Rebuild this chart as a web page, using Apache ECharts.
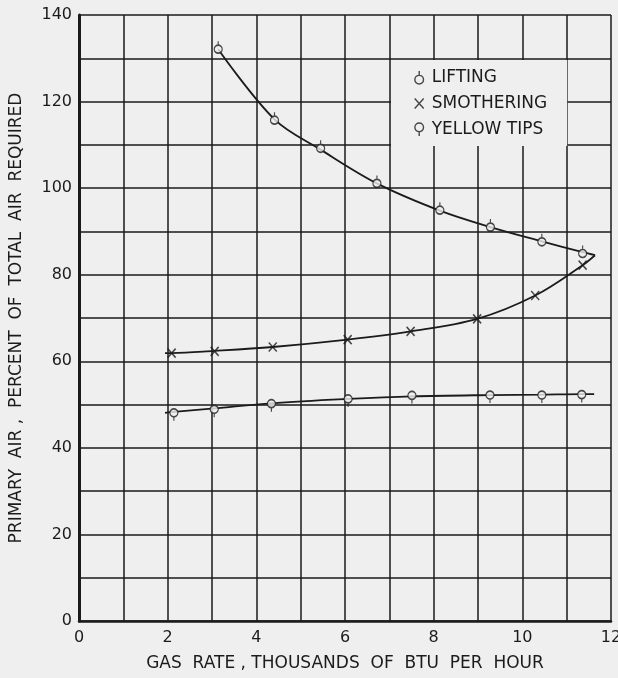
<!DOCTYPE html>
<html>
<head>
<meta charset="utf-8">
<script src="https://cdn.jsdelivr.net/npm/echarts@6/dist/echarts.min.js"></script>
<style>
  html, body { margin: 0; padding: 0; background: #efefef; }
  #chart { width: 618px; height: 678px; }
</style>
</head>
<body>
<div id="chart"></div>
<script>
// Observed points: [gas rate (thousand Btu/h), primary air (% of total)]
const liftingPts = [[3.14,132.1],[4.41,115.7],[5.45,109.2],[6.72,101.1],[8.14,94.9],[9.28,91.0],[10.44,87.6],[11.36,84.9]];
const smotheringPts = [[2.09,61.9],[3.06,62.3],[4.37,63.3],[6.06,65.0],[7.48,66.9],[8.98,69.8],[10.29,75.2],[11.36,82.2]];
const yellowPts = [[2.14,48.1],[3.05,48.9],[4.34,50.2],[6.07,51.3],[7.51,52.1],[9.27,52.2],[10.44,52.2],[11.34,52.3]];

// Faired curves through the points; lifting and smothering meet at the tip
const liftingCurve = [[3.14,132.1],[4.41,115.9],[5.45,108.9],[6.72,101.1],[8.14,94.8],[9.28,91.0],[10.44,87.7],[11.36,85.2],[11.64,84.5]];
const smotheringCurve = [[11.64,84.5],[11.36,82.2],[10.29,75.2],[8.98,69.8],[7.48,66.9],[6.06,65.0],[4.37,63.3],[3.06,62.4],[2.09,61.9],[1.94,61.9]];
const yellowCurve = [[1.94,48.1],[2.14,48.3],[3.05,49.1],[4.34,50.3],[6.07,51.3],[7.51,51.9],[9.27,52.2],[10.44,52.3],[11.34,52.4],[11.62,52.4]];

const seriesNames = ['LIFTING', 'SMOTHERING', 'YELLOW TIPS'];
const xTitle = 'GAS  RATE , THOUSANDS  OF  BTU  PER  HOUR';
const yTitle = 'PRIMARY  AIR ,  PERCENT  OF  TOTAL  AIR  REQUIRED';

const ink = '#1b1b1b';
const paper = '#efefef';
const font = 'DejaVu Sans';

// Marker shapes: ring with stem up, cross, ring with stem down
const liftSym = 'path://M4 0 L4 4 M8 8 A4 4 0 1 1 0 8 A4 4 0 1 1 8 8 Z';
const crossSym = 'path://M0 0 L8 9 M8 0 L0 9';
const pinSym = 'path://M8 4 A4 4 0 1 1 0 4 A4 4 0 1 1 8 4 Z M4 8 L4 12';

const markerStyle = { color: paper, borderColor: ink, borderWidth: 1.4 };

function curve(name, data) {
  return {
    name: name, type: 'line', data: data, smooth: 0.35, showSymbol: false,
    lineStyle: { color: ink, width: 1.8 }, silent: true, z: 2
  };
}

const chart = echarts.init(document.getElementById('chart'));
chart.setOption({
  backgroundColor: paper,
  animation: false,
  grid: { left: 79, right: 7, top: 15, bottom: 57, containLabel: false, outerBoundsMode: 'none' },
  xAxis: {
    type: 'value', min: 0, max: 12, interval: 2,
    name: xTitle, nameLocation: 'middle', nameGap: 34,
    nameTextStyle: { fontFamily: font, fontSize: 17, color: ink },
    axisLine: { show: true, onZero: false, lineStyle: { color: ink, width: 2.5 } },
    axisTick: { show: false },
    axisLabel: { fontFamily: font, fontSize: 16, color: ink, margin: 9 },
    splitLine: { show: true, lineStyle: { color: ink, width: 1.5 } },
    minorTick: { show: false, splitNumber: 2 },
    minorSplitLine: { show: true, lineStyle: { color: ink, width: 1.5 } }
  },
  yAxis: {
    type: 'value', min: 0, max: 140, interval: 20,
    name: yTitle, nameLocation: 'middle', nameGap: 54, nameRotate: 90,
    nameTextStyle: { fontFamily: font, fontSize: 17, color: ink },
    axisLine: { show: true, onZero: false, lineStyle: { color: ink, width: 3 } },
    axisTick: { show: false },
    axisLabel: { fontFamily: font, fontSize: 16, color: ink, margin: 7, padding: [5, 0, 0, 0] },
    splitLine: { show: true, lineStyle: { color: ink, width: 1.5 } },
    minorTick: { show: false, splitNumber: 2 },
    minorSplitLine: { show: true, lineStyle: { color: ink, width: 1.5 } }
  },
  legend: {
    data: [
      { name: seriesNames[0], icon: liftSym },
      { name: seriesNames[1], icon: crossSym },
      { name: seriesNames[2], icon: pinSym }
    ],
    orient: 'vertical', left: 391, top: 60,
    itemWidth: 9, itemHeight: 13, itemGap: 9,
    padding: [9, 20, 8, 23],
    backgroundColor: paper,
    itemStyle: { color: paper, borderColor: ink, borderWidth: 1.4 },
    textStyle: { fontFamily: font, fontSize: 17, color: ink, lineHeight: 16, padding: [0, 0, 0, 3] }
  },
  series: [
    curve('liftingCurve', liftingCurve),
    curve('smotheringCurve', smotheringCurve),
    curve('yellowCurve', yellowCurve),
    { name: seriesNames[0], type: 'scatter', data: liftingPts, symbol: liftSym,
      symbolSize: [8, 12], symbolOffset: [0, -2], itemStyle: markerStyle, z: 3 },
    { name: seriesNames[1], type: 'scatter', data: smotheringPts, symbol: crossSym,
      symbolSize: [8, 9], itemStyle: { color: paper, borderColor: ink, borderWidth: 1.6 }, z: 3 },
    { name: seriesNames[2], type: 'scatter', data: yellowPts, symbol: pinSym,
      symbolSize: [8, 12], symbolOffset: [0, 2], itemStyle: markerStyle, z: 3 }
  ]
});
</script>
</body>
</html>
